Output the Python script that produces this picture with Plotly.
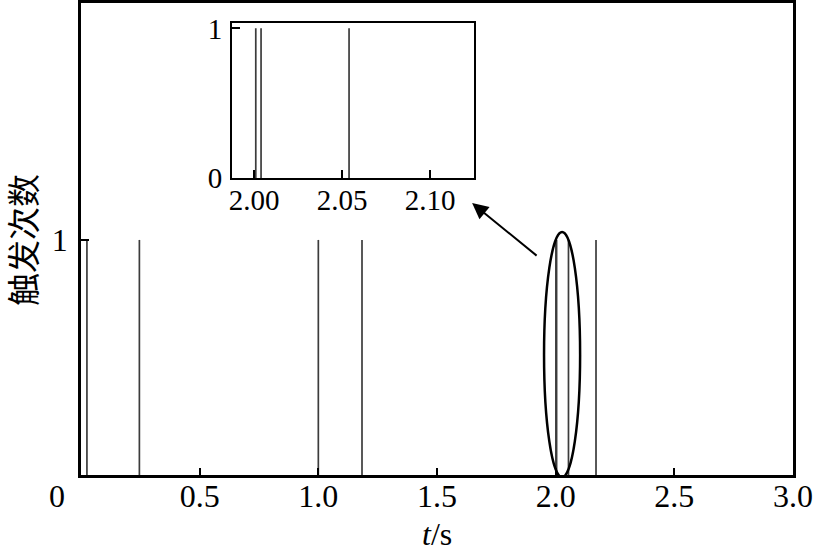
import plotly.graph_objects as go

# Data: firing times (s) and counts
spike_times = [0.025, 0.246, 1.0, 1.184, 2.001, 2.004, 2.054, 2.17]
spike_counts = [1, 1, 1, 1, 1, 1, 1, 1]

main_xticks = [0.5, 1.0, 1.5, 2.0, 2.5, 3.0]
main_xticklabels = ["0.5", "1.0", "1.5", "2.0", "2.5", "3.0"]
main_yticks = [1]
inset_xticks = [2.00, 2.05, 2.10]
inset_xticklabels = ["2.00", "2.05", "2.10"]
inset_yticks = [0, 1]

x_title = "<i>t</i>/s"
y_title = "触发次数"

def stems(ts, cs):
    xs, ys = [], []
    for t, c in zip(ts, cs):
        xs += [t, t, None]
        ys += [0, c, None]
    return xs, ys

sx, sy = stems(spike_times, spike_counts)

fig = go.Figure()
fig.add_trace(go.Scatter(x=sx, y=sy, mode="lines",
                         line=dict(color="#3c3c3c", width=1.7),
                         xaxis="x", yaxis="y", showlegend=False, hoverinfo="skip"))
fig.add_trace(go.Scatter(x=sx, y=sy, mode="lines",
                         line=dict(color="#3c3c3c", width=1.7),
                         xaxis="x2", yaxis="y2", showlegend=False, hoverinfo="skip"))

serif = "Liberation Serif"
tickfont = dict(family=serif, size=32, color="black")
insetfont = dict(family=serif, size=29, color="black")

fig.update_layout(
    width=813, height=550,
    margin=dict(l=81, r=20, t=3, b=75),
    paper_bgcolor="white", plot_bgcolor="white",
    xaxis=dict(domain=[0, 1], range=[0, 3.0], tickvals=main_xticks, ticktext=main_xticklabels,
               ticks="inside", ticklen=7, tickwidth=2, tickcolor="black", automargin=False,
               showline=True, linecolor="black", linewidth=2.5, mirror=True,
               showgrid=False, zeroline=False, tickfont=tickfont, ticklabelstandoff=-9),
    yaxis=dict(domain=[0, 1], range=[0, 2.008], tickvals=main_yticks, ticktext=["1"],
               ticks="inside", ticklen=8, tickwidth=2, tickcolor="black", automargin=False,
               showline=True, linecolor="black", linewidth=2.5, mirror=True,
               showgrid=False, zeroline=False, tickfont=tickfont, ticklabelstandoff=4),
    xaxis2=dict(domain=[0.2121, 0.552], anchor="y2", range=[1.9875, 2.125],
                tickvals=inset_xticks, ticktext=inset_xticklabels, automargin=False,
                ticks="inside", ticklen=8, tickwidth=2, tickcolor="black",
                showline=True, linecolor="black", linewidth=2, mirror=True,
                showgrid=False, zeroline=False, tickfont=insetfont, ticklabelstandoff=-5),
    yaxis2=dict(domain=[0.629, 0.958], anchor="x2", range=[0, 1.037],
                tickvals=inset_yticks, ticktext=["0", "1"], automargin=False,
                ticks="inside", ticklen=8, tickwidth=2, tickcolor="black",
                showline=True, linecolor="black", linewidth=2, mirror=True,
                showgrid=False, zeroline=False, tickfont=insetfont, ticklabelstandoff=2),
)

# axis titles
fig.add_annotation(x=0.5, y=-0.125, xref="paper", yref="paper", text=x_title,
                   showarrow=False, xanchor="center", yanchor="middle",
                   font=dict(family=serif, size=32, color="black"))
fig.add_annotation(x=-0.0829, y=0.498, xref="paper", yref="paper", text=y_title,
                   showarrow=False, xanchor="center", yanchor="middle", textangle=-90,
                   font=dict(family="Noto Sans CJK SC", size=33, color="black"))

# origin label "0"
fig.add_annotation(x=0, y=0, xref="x", yref="y", text="0", showarrow=False,
                   xshift=-24, yshift=-21, font=tickfont)

# ellipse highlighting region near 2.0 s
fig.add_shape(type="circle", xref="x", yref="y", x0=1.951, x1=2.103, y0=-0.01, y1=1.034,
              line=dict(color="black", width=2.5), layer="above")

# arrow pointing to inset
fig.add_annotation(x=1.648, y=1.157, ax=1.926, ay=0.928, xref="x", yref="y",
                   axref="x", ayref="y", text="", showarrow=True,
                   arrowhead=2, arrowsize=1.6, arrowwidth=2, arrowcolor="black")

fig.write_html("out.html", config={"displayModeBar": False},
               post_script="document.body.style.margin='0';")
